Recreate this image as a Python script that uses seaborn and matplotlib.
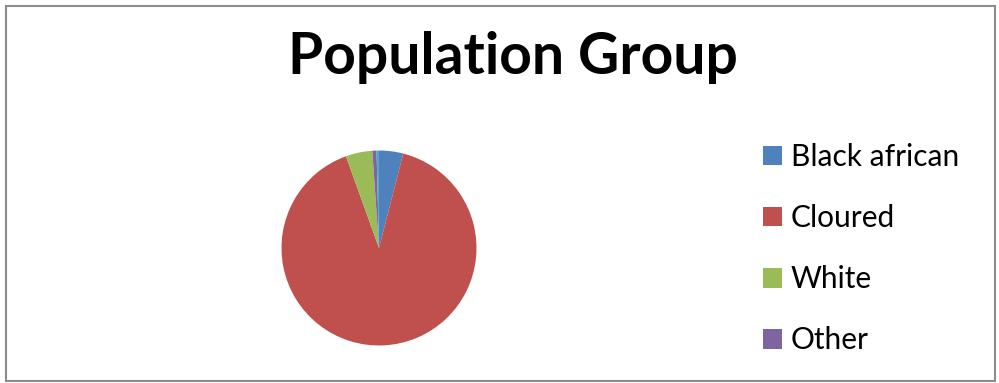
import matplotlib
matplotlib.use("Agg")
import matplotlib.pyplot as plt
from matplotlib.patches import Patch, Rectangle
import seaborn as sns

categories = ["Black african", "Cloured", "White", "Other", ""]
values = [4.0, 90.5, 4.4, 0.7, 0.4]
colors = ["#4F81BD", "#C0504D", "#9BBB59", "#8064A2", "#4BACC6"]
title = "Population Group"

sns.set_theme(style="white")
plt.rcParams["font.family"] = ["Lato", "DejaVu Sans"]
plt.rcParams["text.color"] = "black"

W, H = 999, 383
fig = plt.figure(figsize=(W / 100, H / 100), dpi=100)
fig.patch.set_facecolor("white")

# chart border
fig.patches.append(Rectangle((6 / W, 2 / H), 989 / W, 375 / H, transform=fig.transFigure,
                             fill=False, edgecolor="#8C8C8C", linewidth=1.5))

cx, cy, r = 379, 248, 97.5
ax = fig.add_axes([(cx - r) / W, (H - cy - r) / H, 2 * r / W, 2 * r / H])
wedges, _ = ax.pie(values, colors=colors, startangle=90, counterclock=False,
                   wedgeprops=dict(linewidth=0))
ax.set_aspect("equal")
ax.set_xlim(-1, 1)
ax.set_ylim(-1, 1)
ax.axis("off")

fig.text(513 / W, 1 - 57 / H, title, ha="center", va="center", fontsize=41,
         fontweight="bold", color="black")

handles = [Patch(facecolor=c, edgecolor="none") for c in colors[:4]]
leg = fig.legend(handles, categories[:4], loc="upper left",
                 bbox_to_anchor=(751 / W, 1 - 131 / H), frameon=False,
                 fontsize=21.5, handlelength=0.63, handleheight=0.63,
                 handletextpad=0.3, labelspacing=1.11, borderaxespad=0)
for t in leg.get_texts():
    t.set_color("black")

fig.savefig("out.png", dpi=100)
